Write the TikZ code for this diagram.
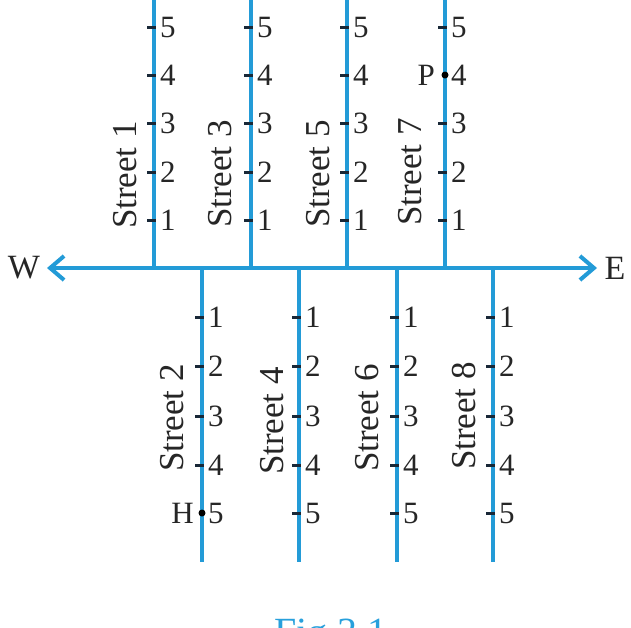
\documentclass[tikz,border=0pt]{standalone}
\usepackage{fontspec}
\setmainfont{Liberation Serif}
\usetikzlibrary{arrows.meta}
\definecolor{road}{RGB}{35,155,215}
\definecolor{tickc}{RGB}{25,40,55}
\definecolor{capblue}{RGB}{40,160,220}
\begin{document}
\begin{tikzpicture}[x=1pt,y=-1pt,
  road/.style={draw=road, line width=4pt},
  tickmark/.style={draw=tickc, line width=3pt},
  num/.style={anchor=west, inner sep=0pt, font=\fontsize{31}{31}\selectfont, text=black!85},
  streetlbl/.style={rotate=90, inner sep=0pt, font=\fontsize{35}{35}\selectfont, text=black!85},
  compass/.style={inner sep=0pt, font=\fontsize{34}{34}\selectfont, text=black!85},
  placelbl/.style={anchor=east, inner sep=0pt, font=\fontsize{31}{31}\selectfont, text=black!85},
  place/.style={circle, fill=black, inner sep=0pt, minimum size=7pt},
  barb/.tip={Straight Barb[length=14pt,width=24pt]},
]
\useasboundingbox (0,0) rectangle (631,627);
\clip (0,0) rectangle (631,627);

% main east-west road
\coordinate (Wend) at (47,268);
\coordinate (Eend) at (597,268);
\draw[road, barb-barb] (Wend) -- (Eend);
\node[compass] (W) at (24,268) {W};
\node[compass] (E) at (615,268) {E};

% streets north of the road
\foreach \x/\n/\lx/\ly in {154/1/125/175, 251/3/220/174, 347/5/318/174, 445/7/410/172}{
  \coordinate (base\n) at (\x,268);
  \coordinate (top\n) at (\x,-6);
  \draw[road] (base\n) -- (top\n);
  \foreach \k/\y in {1/220,2/172,3/123,4/75,5/27}{
    \coordinate (s\n-\k) at (\x,\y);
    \ifnum\n=7 \ifnum\k=4 \else
      \draw[tickmark] ([xshift=-7pt]s\n-\k) -- ([xshift=2pt]s\n-\k);
    \fi\else
      \draw[tickmark] ([xshift=-7pt]s\n-\k) -- ([xshift=2pt]s\n-\k);
    \fi
    \node[num] (n\n-\k) at ([xshift=6pt]s\n-\k) {\k};
  }
  \node[streetlbl] (street\n) at (\lx,\ly) {Street \n};
}

% streets south of the road
\foreach \x/\n/\lx/\ly in {202/2/172/418, 299/4/272/421, 397/6/367/418, 493/8/464/416}{
  \coordinate (base\n) at (\x,268);
  \coordinate (end\n) at (\x,562);
  \draw[road] (base\n) -- (end\n);
  \foreach \k/\y in {1/317,2/366,3/416,4/465,5/513}{
    \coordinate (s\n-\k) at (\x,\y);
    \ifnum\n=2 \ifnum\k=5 \else
      \draw[tickmark] ([xshift=-7pt]s\n-\k) -- ([xshift=2pt]s\n-\k);
    \fi\else
      \draw[tickmark] ([xshift=-7pt]s\n-\k) -- ([xshift=2pt]s\n-\k);
    \fi
    \node[num] (n\n-\k) at ([xshift=6pt]s\n-\k) {\k};
  }
  \node[streetlbl] (street\n) at (\lx,\ly) {Street \n};
}

% marked places
\node[place] (Pdot) at (s7-4) {};
\node[placelbl] (P) at ([xshift=-10pt]s7-4) {P};
\node[place] (Hdot) at (s2-5) {};
\node[placelbl] (H) at ([xshift=-8pt]s2-5) {H};

% caption
\node[anchor=base west, inner sep=0pt, font=\fontsize{40}{40}\selectfont, text=capblue] (cap) at (274,645) {Fig 3.1};
\end{tikzpicture}
\end{document}
